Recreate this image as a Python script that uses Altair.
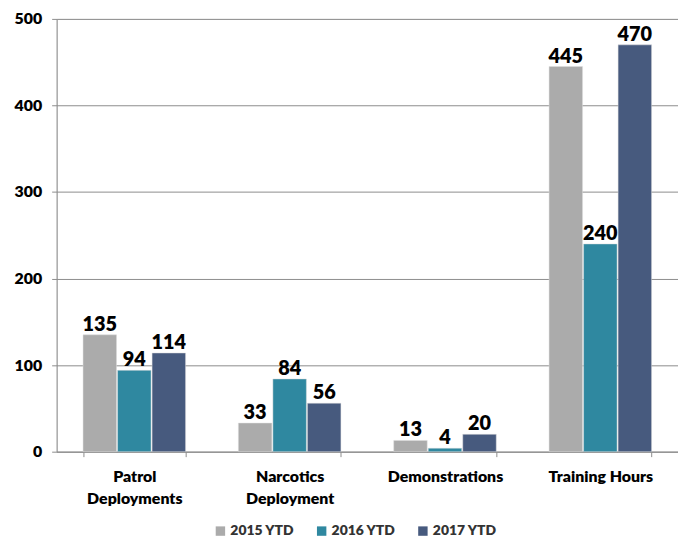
import altair as alt
import pandas as pd

categories = ["Patrol Deployments", "Narcotics Deployment", "Demonstrations", "Training Hours"]
series = ["2015 YTD", "2016 YTD", "2017 YTD"]
v2015 = [135, 33, 13, 445]
v2016 = [94, 84, 4, 240]
v2017 = [114, 56, 20, 470]
colors = ["#ababab", "#2f88a0", "#475a7e"]

rows = []
for s, vals in zip(series, [v2015, v2016, v2017]):
    for c, v in zip(categories, vals):
        rows.append({"Category": c, "Series": s, "Value": v})
df = pd.DataFrame(rows)

FONT = "Lato"
W = 800

x_enc = alt.X(
    "Category:N",
    sort=categories,
    scale=alt.Scale(paddingInner=0.34, paddingOuter=0.17),
    axis=alt.Axis(
        title=None,
        labelAngle=0,
        labelFont=FONT,
        labelFontSize=16,
        labelFontWeight=W,
        labelColor="black",
        labelPadding=12,
        labelLineHeight=22,
        ticks=True,
        tickBand="extent",
        tickSize=5,
        tickColor="#8c8c8c",
        domainColor="#8c8c8c",
        labelExpr="datum.label == 'Patrol Deployments' ? ['Patrol', 'Deployments'] : datum.label == 'Narcotics Deployment' ? ['Narcotics', 'Deployment'] : datum.label",
    ),
)
xoff = alt.XOffset("Series:N", sort=series, scale=alt.Scale(paddingInner=0.03))
y_enc = alt.Y(
    "Value:Q",
    scale=alt.Scale(domain=[0, 500]),
    axis=alt.Axis(
        title=None,
        values=[0, 100, 200, 300, 400, 500],
        labelFont=FONT,
        labelFontSize=16,
        labelFontWeight=W,
        labelColor="black",
        labelPadding=10,
        tickSize=5,
        tickColor="#8c8c8c",
        domainColor="#8c8c8c",
        gridColor="#8c8c8c",
        gridWidth=1,
    ),
)

bars = alt.Chart(df).mark_bar(stroke="#dddddd", strokeWidth=0.8, strokeOpacity=0.6).encode(
    x=x_enc,
    xOffset=xoff,
    y=y_enc,
    color=alt.Color(
        "Series:N",
        sort=series,
        scale=alt.Scale(domain=series, range=colors),
        legend=alt.Legend(
            title=None,
            orient="none",
            direction="horizontal",
            legendX=158,
            legendY=509,
            symbolType="square",
            symbolSize=90,
            symbolStrokeWidth=0,
            labelFont=FONT,
            labelFontSize=14,
            labelFontWeight=W,
            labelColor="#333333",
            columnPadding=20,
            labelOffset=3,
        ),
    ),
)

labels = alt.Chart(df).mark_text(
    baseline="bottom", dy=0, font=FONT, fontSize=20, fontWeight=W, color="black"
).encode(
    x=alt.X("Category:N", sort=categories),
    xOffset=alt.XOffset("Series:N", sort=series),
    y=alt.Y("Value:Q"),
    text=alt.Text("Value:Q"),
)

chart = (
    alt.layer(bars, labels)
    .properties(
        width=626,
        height=436,
        autosize=alt.AutoSizeParams(type="none"),
        padding={"left": 49, "top": 9, "right": 0, "bottom": 88},
    )
    .configure_view(stroke=None)
    .configure(background="white")
)

chart.save("out.html", embed_options={"renderer": "svg", "actions": False})
